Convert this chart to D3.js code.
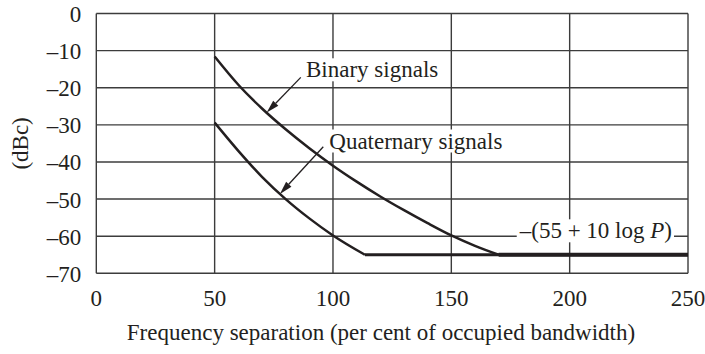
<!DOCTYPE html>
<html>
<head>
<meta charset="utf-8">
<script src="https://cdn.jsdelivr.net/npm/d3@7"></script>
<style>
  html, body { margin: 0; padding: 0; background: #fff; }
  svg { display: block; }
  text { font-family: "Liberation Serif", "Times New Roman", serif; fill: #231f20; }
</style>
</head>
<body>
<svg id="chart" width="705" height="354"></svg>
<script>
// Axis ticks
const xTicks = [0, 50, 100, 150, 200, 250];
const yTicks = [0, -10, -20, -30, -40, -50, -60, -70];

// Binary signals: frequency separation (%) vs. level (dBc), curved part
const binaryX  = [50, 60, 70, 80, 90, 100, 110, 120, 130, 140, 150, 160, 170];
const binaryDb = [-11.6, -19.2, -25.6, -31.2, -36.3, -41.0, -45.3, -49.3, -53.0, -56.5, -59.8, -62.6, -65];

// Quaternary signals, curved part
const quatX  = [50, 60, 70, 80, 90, 100, 113.5];
const quatDb = [-29.4, -37, -44, -50, -55.2, -59.8, -65];

// Floor limit –(55 + 10 log P), shown at -65 dBc
const floorDb = -65;
const floorEnd = 250;

const svg = d3.select("#chart");
const margin = { left: 96.3, top: 13.5, right: 705 - 688, bottom: 354 - 273.3 };
const W = 705 - margin.left - margin.right;
const H = 354 - margin.top - margin.bottom;

const x = d3.scaleLinear().domain([0, 250]).range([margin.left, margin.left + W]);
const y = d3.scaleLinear().domain([-70, 0]).range([margin.top + H, margin.top]);

const gridColor = "#3c3c3c";
const inkColor = "#231f20";
const fontSize = 23;

// Grid
const g = svg.append("g");
g.selectAll("line.h").data(yTicks).join("line")
  .attr("x1", x(0)).attr("x2", x(250))
  .attr("y1", d => y(d)).attr("y2", d => y(d))
  .attr("stroke", gridColor).attr("stroke-width", 1.4);
g.selectAll("line.v").data(xTicks).join("line")
  .attr("y1", y(0)).attr("y2", y(-70))
  .attr("x1", d => x(d)).attr("x2", d => x(d))
  .attr("stroke", gridColor).attr("stroke-width", 1.4);

// Tick labels
svg.append("g").selectAll("text").data(yTicks).join("text")
  .attr("x", x(0) - 15).attr("y", d => y(d) + 8.5)
  .attr("text-anchor", "end").attr("font-size", fontSize)
  .text(d => d === 0 ? "0" : "–" + Math.abs(d));
svg.append("g").selectAll("text").data(xTicks).join("text")
  .attr("x", d => x(d)).attr("y", y(-70) + 33)
  .attr("text-anchor", "middle").attr("font-size", fontSize)
  .text(d => d);

// Axis titles
svg.append("text")
  .attr("x", 381).attr("y", 340)
  .attr("text-anchor", "middle").attr("font-size", fontSize)
  .text("Frequency separation (per cent of occupied bandwidth)");
svg.append("text")
  .attr("transform", `translate(28,${(y(0) + y(-70)) / 2}) rotate(-90)`)
  .attr("text-anchor", "middle").attr("font-size", fontSize)
  .text("(dBc)");

// Curves
const line = d3.line().x(d => x(d[0])).y(d => y(d[1])).curve(d3.curveMonotoneX);
const binaryPts = binaryX.map((v, i) => [v, binaryDb[i]]);
const quatPts = quatX.map((v, i) => [v, quatDb[i]]);

svg.append("path").attr("d", line(binaryPts))
  .attr("fill", "none").attr("stroke", inkColor).attr("stroke-width", 2.5);
svg.append("path").attr("d", line(quatPts))
  .attr("fill", "none").attr("stroke", inkColor).attr("stroke-width", 2.5);

// Floor limit line
const straight = d3.line().x(d => x(d[0])).y(d => y(d[1]));
svg.append("path").attr("d", straight([[quatX[quatX.length - 1], floorDb], [floorEnd, floorDb]]))
  .attr("fill", "none").attr("stroke", inkColor).attr("stroke-width", 3.2);
svg.append("path").attr("d", straight([[binaryX[binaryX.length - 1], floorDb], [floorEnd, floorDb]]))
  .attr("fill", "none").attr("stroke", inkColor).attr("stroke-width", 4);

// Labels with white backing boxes
function boxedLabel(px, py, anchor, build) {
  const grp = svg.append("g");
  const rect = grp.append("rect").attr("fill", "#fff");
  const t = grp.append("text").attr("x", px).attr("y", py)
    .attr("text-anchor", anchor).attr("font-size", fontSize);
  build(t);
  const bb = t.node().getBBox();
  rect.attr("x", bb.x - 2).attr("y", bb.y + 1).attr("width", bb.width + 4).attr("height", bb.height - 2);
  return grp;
}

boxedLabel(306, 77.3, "start", t => t.text("Binary signals"));
boxedLabel(329.3, 148.5, "start", t => t.text("Quaternary signals"));
boxedLabel(672, 238.3, "end", t => {
  t.append("tspan").text("–(55 + 10 log ");
  t.append("tspan").attr("font-style", "italic").text("P");
  t.append("tspan").text(")");
});

// Arrows pointing from labels to curves
const arrows = [
  { from: [86.4, -17.2], to: [72, -26.7] },
  { from: [95.9, -35.9], to: [77.6, -48.6] }
];
arrows.forEach(a => {
  const x1 = x(a.from[0]), y1 = y(a.from[1]);
  const x2 = x(a.to[0]), y2 = y(a.to[1]);
  const ang = Math.atan2(y2 - y1, x2 - x1);
  const len = 13, half = 3.6;
  const bx = x2 - len * Math.cos(ang), by = y2 - len * Math.sin(ang);
  svg.append("line").attr("x1", x1).attr("y1", y1).attr("x2", bx).attr("y2", by)
    .attr("stroke", inkColor).attr("stroke-width", 1.3);
  const px = -Math.sin(ang), py = Math.cos(ang);
  svg.append("path")
    .attr("d", `M${x2},${y2}L${bx + half * px},${by + half * py}L${bx - half * px},${by - half * py}Z`)
    .attr("fill", inkColor);
});
</script>
</body>
</html>
